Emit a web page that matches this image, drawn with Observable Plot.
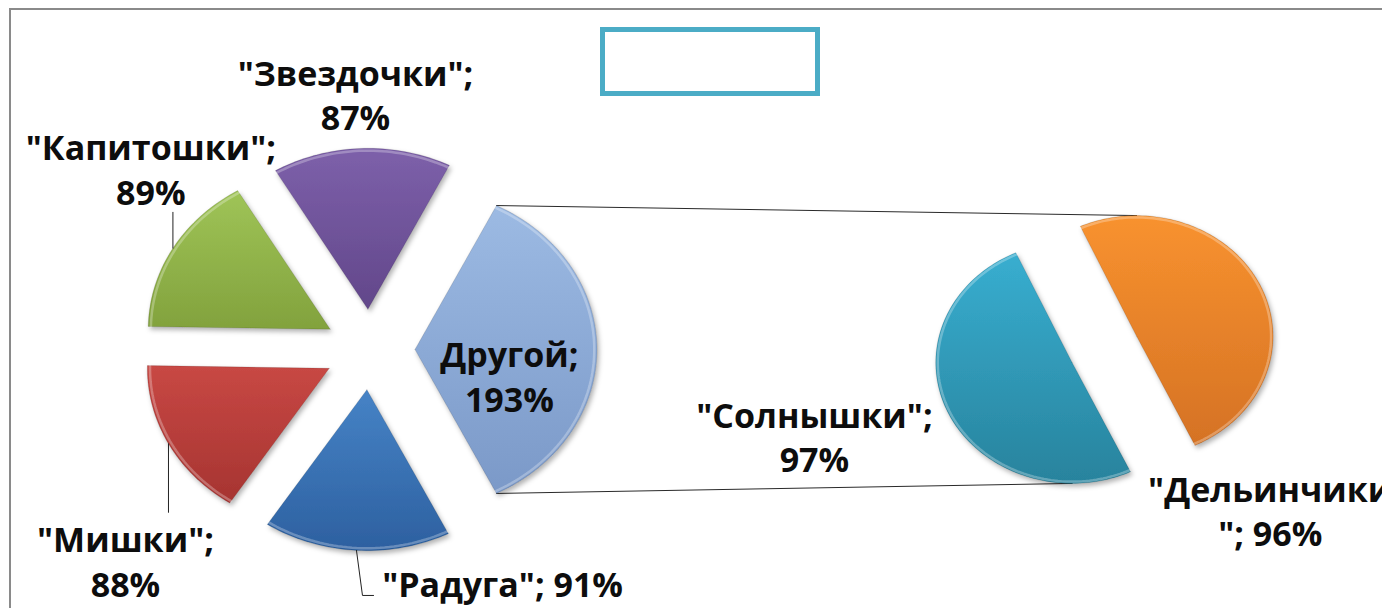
<!DOCTYPE html>
<html>
<head>
<meta charset="utf-8">
<script src="https://cdn.jsdelivr.net/npm/d3@7"></script>
<script src="https://cdn.jsdelivr.net/npm/@observablehq/plot@0.6"></script>
<style>
  html, body { margin: 0; padding: 0; background: #fff; overflow: hidden; width: 1382px; height: 608px; }
  #chart { position: absolute; left: 0; top: 0; }
  #frame { position: absolute; left: 9px; top: 8px; width: 3000px; height: 3000px;
           border-left: 2px solid #8a8a8a; border-top: 2px solid #8a8a8a; pointer-events: none; z-index: 2; }
  #title { position: absolute; left: 600px; top: 27px; width: 210px; height: 59px;
           border: 5px solid #4bacc6; z-index: 2; }
</style>
</head>
<body>
<div id="chart"></div>
<div id="frame"></div>
<div id="title"></div>
<script>
// ---------------- data ----------------
const mainNames = ["\"Радуга\"", "\"Мишки\"", "\"Капитошки\"", "\"Звездочки\""];
const mainValues = [91, 88, 89, 87];
const otherName = "Другой";
const subNames = ["\"Солнышки\"", "\"Дельинчики\""];
const subValues = [97, 96];

// ---------------- layout / style ----------------
const W = 1382, H = 608;
const PX = {cx: 369, cy: 349, kx: 182, ky: 161};          // pixel frame of the unit coordinate system
const MAIN = {c: [0, 0], r: 1, explode: 0.25};
const SUB = {c: [4.038, 0], r: 0.75, explode: 0.195, start: 154.7};

const sliceColors = {
  "\"Радуга\"": ["#4683c6", "#2d60a0"],
  "\"Мишки\"": ["#c84844", "#a63431"],
  "\"Капитошки\"": ["#9fc457", "#82a23d"],
  "\"Звездочки\"": ["#7d60aa", "#62478a"],
  "Другой": ["#9cbae3", "#7b99c8"],
  "\"Солнышки\"": ["#38aed0", "#28839d"],
  "\"Дельинчики\"": ["#f8922f", "#d57224"]
};

// label placement: angle offset from slice bisector (deg), distance from pie centre, wrapping
const labelLayout = {
  "\"Радуга\"": {dA: -30.1, r: 1.621, wrap: "inline"},
  "\"Мишки\"": {dA: -16.4, r: 1.874, wrap: "nl"},
  "\"Капитошки\"": {dA: 12.9, r: 1.646, wrap: "nl"},
  "\"Звездочки\"": {dA: -0.8, r: 1.592, wrap: "nl"},
  "Другой": {dA: 11.8, r: 0.785, wrap: "nl"},
  "\"Солнышки\"": {dA: 6.15, r: 1.682, wrap: "nl"},
  "\"Дельинчики\"": {dA: 72.35, r: 1.349, wrap: "split"}
};
// leader lines: vertical offset of the end from the label centre, optional elbow
const leaderLayout = {
  "\"Капитошки\"": {dv: -0.273},
  "\"Мишки\"": {dv: 0.298},
  "\"Радуга\"": {dv: -0.081, du: 0.033, du2: -0.709}
};

// ---------------- geometry ----------------
const rad = d => d * Math.PI / 180;
const otherValue = d3.sum(subValues);
const mainAll = [...mainNames.map((n, i) => ({name: n, value: mainValues[i]})), {name: otherName, value: otherValue}];
const mainTotal = d3.sum(mainAll, d => d.value);
const slices = [];
let a = 90 + (otherValue / mainTotal * 360) / 2;
for (const d of mainAll) {
  const span = d.value / mainTotal * 360;
  slices.push({...d, a0: a, a1: a + span, pie: MAIN});
  a += span;
}
const subTotal = d3.sum(subValues);
let b = SUB.start;
subNames.forEach((n, i) => {
  const span = subValues[i] / subTotal * 360;
  slices.push({name: n, value: subValues[i], a0: b, a1: b + span, pie: SUB});
  b += span;
});
for (const s of slices) {
  s.midDeg = (s.a0 + s.a1) / 2;
  const m = rad(s.midDeg);
  s.o = [s.pie.c[0] + s.pie.explode * Math.sin(m), s.pie.c[1] + s.pie.explode * Math.cos(m)];
}
const arcPt = (s, deg, k = 1) => [s.o[0] + s.pie.r * k * Math.sin(rad(deg)), s.o[1] + s.pie.r * k * Math.cos(rad(deg))];

const poly = [], rims = [];
for (const s of slices) {
  const n = Math.max(8, Math.ceil((s.a1 - s.a0) / 1.5));
  poly.push({name: s.name, u: s.o[0], v: s.o[1]});
  for (let i = 0; i <= n; i++) {
    const deg = s.a0 + (s.a1 - s.a0) * i / n;
    const [u, v] = arcPt(s, deg);
    poly.push({name: s.name, u, v});
    const [ru, rv] = arcPt(s, deg, 0.985);
    rims.push({name: s.name, u: ru, v: rv, up: Math.cos(rad(deg))});
  }
  poly.push({name: s.name, u: s.o[0], v: s.o[1]});
}

const labelText = (s, wrap) =>
  wrap === "inline" ? `${s.name}; ${s.value}%`
  : wrap === "split" ? `${s.name.slice(0, -1)}\n${s.name.slice(-1)}; ${s.value}%`
  : `${s.name};\n${s.value}%`;
const labels = slices.map(s => {
  const L = labelLayout[s.name];
  const ang = rad(s.midDeg + L.dA);
  return {name: s.name, u: s.pie.c[0] + L.r * Math.sin(ang), v: s.pie.c[1] + L.r * Math.cos(ang), text: labelText(s, L.wrap)};
});

const leaders = [];
for (const s of slices) {
  const L = leaderLayout[s.name];
  if (!L) continue;
  const lab = labels.find(d => d.name === s.name);
  const [u0, v0] = arcPt(s, s.midDeg);
  leaders.push({id: s.name, u: u0, v: v0});
  if (L.du2 === undefined) {
    leaders.push({id: s.name, u: u0, v: lab.v + L.dv});
  } else {
    leaders.push({id: s.name, u: u0 + L.du, v: lab.v + L.dv});
    leaders.push({id: s.name, u: lab.u + L.du2, v: lab.v + L.dv});
  }
}

const other = slices.find(s => s.name === otherName);
const subSlices = slices.filter(s => s.pie === SUB);
const containing = deg => subSlices.find(s => (((deg - s.a0) % 360) + 360) % 360 < (s.a1 - s.a0));
const topS = containing(0), botS = containing(180);
const seriesLines = [
  {id: "top", p: arcPt(other, other.a0)}, {id: "top", p: arcPt(topS, 0)},
  {id: "bot", p: arcPt(other, other.a1)}, {id: "bot", p: arcPt(botS, 180)}
].map(d => ({id: d.id, u: d.p[0], v: d.p[1]}));

// ---------------- plot ----------------
const names = slices.map(s => s.name);
const chart = Plot.plot({
  width: W, height: H, margin: 0,
  style: {background: "transparent"},
  x: {domain: [(0 - PX.cx) / PX.kx, (W - PX.cx) / PX.kx], axis: null},
  y: {domain: [(PX.cy - H) / PX.ky, PX.cy / PX.ky], axis: null},
  color: {type: "ordinal", domain: names, range: names.map((n, i) => `url(#grad${i})`)},
  marks: [
    Plot.line(seriesLines, {x: "u", y: "v", z: "id", stroke: "#2a2a2a", strokeWidth: 1}),
    Plot.line(poly, {x: "u", y: "v", z: "name", fill: "name", stroke: "rgba(0,0,0,0.12)", strokeWidth: 1, curve: "linear"}),
    Plot.line(rims, {x: "u", y: "v", z: "name", stroke: "#ffffff", strokeOpacity: 0.28, strokeWidth: 2.5}),
    Plot.line(leaders, {x: "u", y: "v", z: "id", stroke: "#222", strokeWidth: 1}),
    Plot.text(labels, {x: "u", y: "v", text: "text", fontFamily: "Open Sans", fontSize: 34, fontWeight: 700,
                       lineHeight: 1.3, fill: "#0d0d0d"})
  ]
});

// gradients + shadow
const svg = d3.select(chart.tagName.toLowerCase() === "svg" ? chart : chart.querySelector("svg"));
const defs = svg.insert("defs", ":first-child");
names.forEach((n, i) => {
  const g = defs.append("linearGradient").attr("id", `grad${i}`).attr("x1", 0).attr("y1", 0).attr("x2", 0).attr("y2", 1);
  g.append("stop").attr("offset", "0%").attr("stop-color", sliceColors[n][0]);
  g.append("stop").attr("offset", "100%").attr("stop-color", sliceColors[n][1]);
});
const f = defs.append("filter").attr("id", "shadow").attr("x", "-10%").attr("y", "-10%").attr("width", "130%").attr("height", "130%");
f.append("feDropShadow").attr("dx", 2).attr("dy", 3).attr("stdDeviation", 2.5).attr("flood-color", "#000").attr("flood-opacity", 0.3);
svg.selectAll("path").filter(function() { return (this.getAttribute("fill") || "").startsWith("url("); })
   .attr("filter", "url(#shadow)");

document.getElementById("chart").appendChild(chart);
</script>
</body>
</html>
